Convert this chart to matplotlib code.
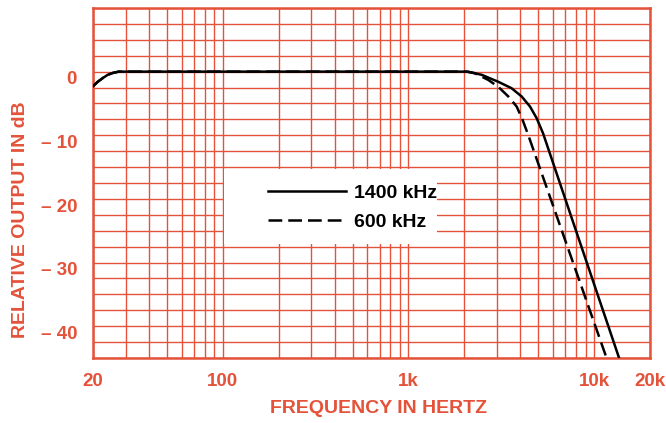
import numpy as np
import matplotlib
matplotlib.use('Agg')
import matplotlib.pyplot as plt
from matplotlib.patches import Rectangle
from matplotlib.transforms import ScaledTranslation

# Frequency response
freq_1400 = [20, 21.2, 22.6, 24, 25.6, 27.5, 40, 100, 1000, 2090, 2480, 3050, 3590,
             4070, 4520, 4900, 5310, 14000]
db_1400 = [-2.3, -1.6, -1.0, -0.5, -0.2, 0, 0, 0, 0, 0, -0.5, -1.6, -2.6,
           -3.9, -5.5, -7.3, -9.7, -46.0]

freq_600 = [20, 21.2, 22.6, 24, 25.6, 27.5, 40, 100, 1000, 2050, 2280, 2690, 3050,
            3450, 3830, 4120, 4410, 12000]
db_600 = [-2.3, -1.6, -1.0, -0.5, -0.2, 0, 0, 0, 0, 0, -0.25, -1.3, -2.4,
          -3.9, -5.5, -7.6, -9.9, -46.0]

x_ticks = [20, 100, 1000, 10000, 20000]
x_labels = ['20', '100', '1k', '10k', '20k']
x_minor = [30, 40, 50, 60, 70, 80, 90, 200, 300, 400, 500, 600, 700, 800, 900,
           2000, 3000, 4000, 5000, 6000, 7000, 8000, 9000]
y_ticks = [0, -10, -20, -30, -40]
y_labels = ['0', '\u2013 10', '\u2013 20', '\u2013 30', '\u2013 40']

red = '#e4523a'
plt.rcParams['font.family'] = ['Liberation Sans', 'DejaVu Sans']
plt.rcParams['font.weight'] = 'bold'

fig = plt.figure(figsize=(6.66, 4.23), dpi=100)
ax = fig.add_axes([93 / 666, 1 - 358 / 423, 557 / 666, 350 / 423])

ax.set_xscale('log')
ax.set_xlim(20, 20000)
ax.set_ylim(-45, 10)

ax.set_xticks(x_ticks)
ax.set_xticklabels(x_labels)
ax.set_xticks(x_minor, minor=True)
ax.xaxis.set_minor_formatter(plt.NullFormatter())
ax.set_yticks(y_ticks)
ax.set_yticklabels(y_labels)
ax.set_yticks(np.arange(-45, 10.1, 2.5), minor=True)

ax.tick_params(which='both', length=0, colors=red, labelsize=13.5)
ax.tick_params(axis='x', pad=10.8)
ax.tick_params(axis='y', pad=11.5)
# labels on the original sit a little below their grid lines
for lab in ax.get_yticklabels():
    lab.set_transform(lab.get_transform() + ScaledTranslation(0, -4.5 / 72, fig.dpi_scale_trans))

ax.grid(which='both', color=red, linewidth=1.0)
ax.set_axisbelow(True)
for s in ax.spines.values():
    s.set_color(red)
    s.set_linewidth(1.8)

# white patch behind the legend
ax.add_patch(Rectangle((102, -27.1), 1420 - 102, 11.8, facecolor='white',
                       edgecolor='none', zorder=1.5))

ax.plot(freq_1400, db_1400, color='black', lw=1.8, label='1400 kHz', zorder=3)
ax.plot(freq_600, db_600, color='black', lw=1.8, dashes=(5.5, 2.4), label='600 kHz', zorder=3)

ax.legend(loc='upper left', bbox_to_anchor=((268 - 93) / 557, (358 - 184) / 350),
          frameon=False, borderpad=0, borderaxespad=0, handlelength=4.0,
          handletextpad=0.4, labelspacing=0.6, prop={'size': 14, 'weight': 'bold'})

ax.set_xlabel('FREQUENCY IN HERTZ', color=red, fontsize=14, fontweight='bold')
ax.xaxis.set_label_coords((379 - 93) / 557, -(408 - 358) / 350)
ax.xaxis.label.set_va('center')
ax.set_ylabel('RELATIVE OUTPUT IN dB', color=red, fontsize=14, fontweight='bold')
ax.yaxis.set_label_coords(-(93 - 21) / 557, (358 - 220) / 350)
ax.yaxis.label.set_va('center')

fig.savefig('out.png', dpi=100)
